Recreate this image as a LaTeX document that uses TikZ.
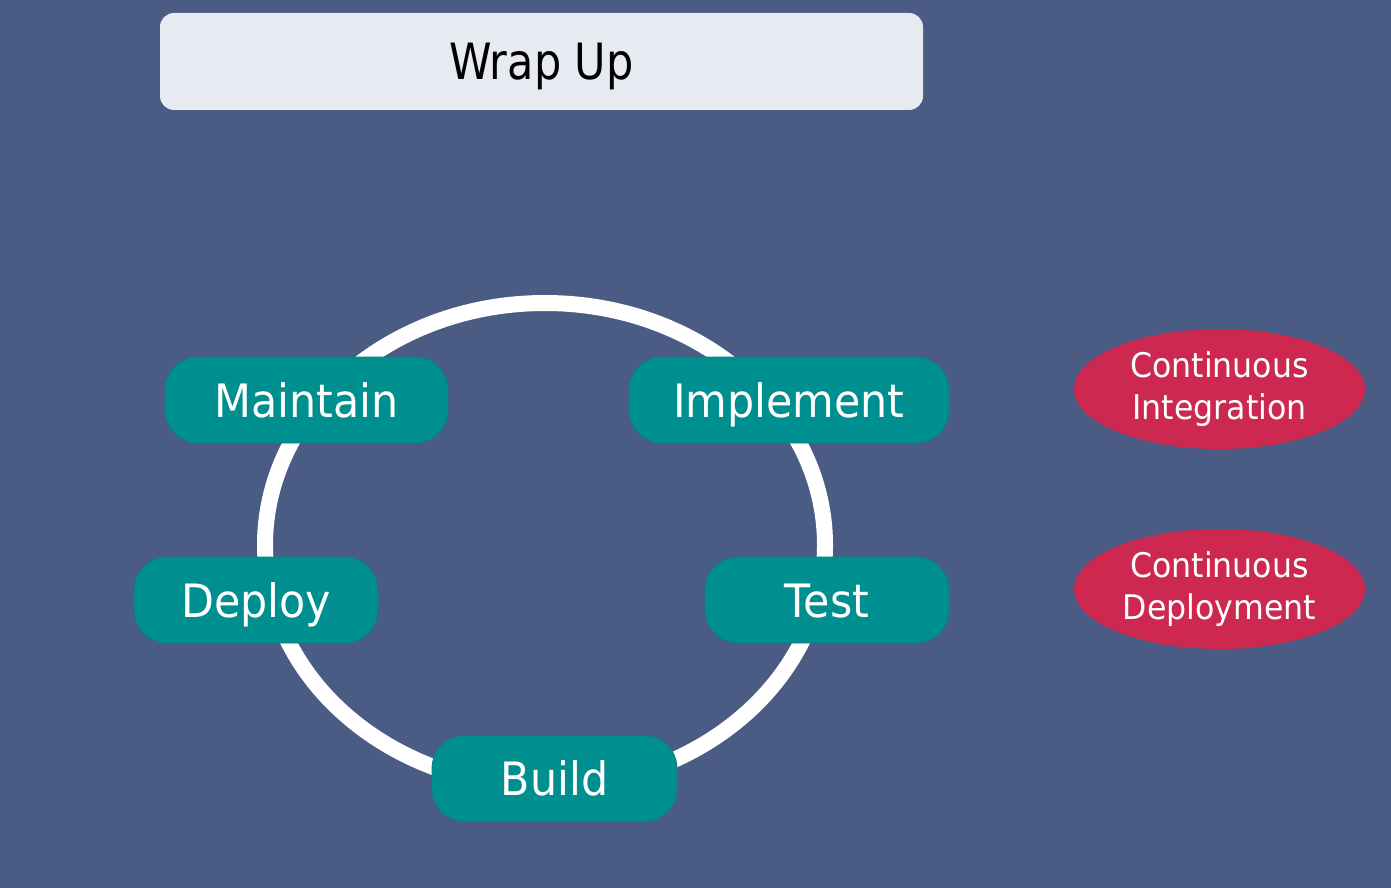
\documentclass[tikz,border=0pt]{standalone}
\usepackage{fontspec}
\setmainfont{DejaVu Sans}[FakeStretch=0.93]
\newfontfamily\titlefont{DejaVu Sans}[FakeStretch=0.86]
\usetikzlibrary{shapes.geometric}
\definecolor{bg}{HTML}{4A5B84}
\definecolor{teal2}{HTML}{008F8F}
\definecolor{tealedge}{HTML}{0A7F86}
\definecolor{crim}{HTML}{CC2850}
\definecolor{titlefill}{HTML}{E7EAF1}
\tikzset{
  stage/.style={rectangle, rounded corners=33pt, fill=teal2, draw=tealedge, line width=0.8pt,
    minimum height=86pt, text=white, font=\fontsize{46}{55}\selectfont,
    text height=34pt, text depth=0pt, inner sep=0pt},
  practice/.style={ellipse, fill=crim, minimum width=291pt, minimum height=120pt, inner sep=0pt,
    text=white, align=center, font=\fontsize{34}{42}\selectfont},
  titlebox/.style={rectangle, rounded corners=14pt, fill=titlefill, minimum width=763pt,
    minimum height=97pt, inner sep=0pt, font=\titlefont\fontsize{50}{60}\selectfont,
    text height=36pt, text depth=0pt},
  ring/.style={ellipse, draw=white, line width=16pt, minimum width=560pt, minimum height=484pt, inner sep=0pt}
}
\begin{document}
\begin{tikzpicture}[x=1pt,y=-1pt]
\fill[bg] (0,0) rectangle (1391,888);
\useasboundingbox (0,0) rectangle (1391,888);
\node[titlebox] (title) at (541.5,61.5) {Wrap Up};
\node[ring] (cycle) at (545,545) {};
\node[stage, minimum width=283pt] (maintain) at (306.5,400) {Maintain};
\node[stage, minimum width=320pt] (implement) at (789,400) {Implement};
\node[stage, minimum width=244pt] (deploy) at (256,600) {Deploy};
\node[stage, minimum width=244pt] (test) at (827,600) {Test};
\node[stage, minimum width=245pt] (build) at (554.5,778.5) {Build};
\node[practice] (ci) at (1219.5,389) {Continuous\\Integration};
\node[practice] (cd) at (1219.5,589) {Continuous\\Deployment};
\end{tikzpicture}
\end{document}
